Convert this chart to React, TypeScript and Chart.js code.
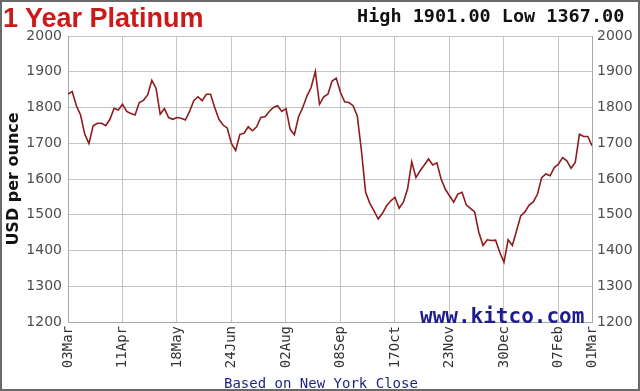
import React, { useEffect, useRef } from "react";
import { Chart, registerables } from "chart.js";

Chart.register(...registerables);

// x-axis tick labels and their positions (index in the price series, 2 trading days per point)
const tickLabels = ["03Mar", "11Apr", "18May", "24Jun", "02Aug", "08Sep", "17Oct", "23Nov", "30Dec", "07Feb", "01Mar"];
const tickIndex = [0, 13, 26, 39, 52, 65, 78, 91, 104, 117, 125];

// y-axis range
const yMin = 1200;
const yMax = 2000;
const yStep = 100;

// platinum closing prices (USD per ounce)
const prices = [
  1837, 1845, 1805, 1779, 1725, 1699, 1749, 1756, 1756, 1749,
  1767, 1798, 1793, 1809, 1789, 1783, 1779, 1814, 1820, 1835,
  1876, 1854, 1781, 1797, 1772, 1767, 1772, 1770, 1765, 1789,
  1819, 1830, 1819, 1837, 1837, 1800, 1767, 1751, 1742, 1699,
  1680, 1725, 1728, 1746, 1735, 1746, 1772, 1774, 1789, 1800,
  1805, 1789, 1797, 1739, 1724, 1774, 1800, 1832, 1856, 1901,
  1809, 1830, 1837, 1874, 1882, 1842, 1816, 1814, 1805, 1777,
  1679, 1563, 1532, 1511, 1488, 1504, 1525, 1539, 1549, 1518,
  1535, 1572, 1648, 1604, 1623, 1639, 1656, 1639, 1645, 1600,
  1572, 1553, 1535, 1558, 1563, 1528, 1518, 1508, 1451, 1414,
  1430, 1428, 1429, 1395, 1367, 1430, 1414, 1455, 1497, 1508,
  1527, 1536, 1558, 1604, 1614, 1609, 1632, 1642, 1660, 1651,
  1630, 1646, 1725, 1719, 1719, 1693,
];

const titleText = "1 Year Platinum";
const highLowText = "High 1901.00 Low 1367.00";
const yTitle = "USD per ounce";
const footText = "Based on New York Close";
const brandText = "www.kitco.com";

export default function App() {
  const canvasRef = useRef<HTMLCanvasElement | null>(null);

  useEffect(() => {
    const canvas = canvasRef.current;
    if (!canvas) return;
    const gridColor = "#c3c3c3";
    const borderColor = "#a8a8a8";
    const yTickFont = { family: "'DejaVu Sans', Verdana, sans-serif", size: 14 };
    const plain = (v: any) => String(v);
    const chart = new Chart(canvas, {
      type: "line",
      data: {
        datasets: [
          {
            data: prices.map((v, i) => ({ x: i, y: v })),
            borderColor: "#8e1c1c",
            borderWidth: 1.6,
            pointRadius: 0,
            tension: 0,
            fill: false,
          },
        ],
      },
      options: {
        animation: false,
        responsive: false,
        maintainAspectRatio: false,
        layout: { padding: { top: 36, left: 0, right: 0, bottom: 0 } },
        plugins: {
          legend: { display: false },
          tooltip: { enabled: false },
          title: { display: false },
        },
        scales: {
          x: {
            type: "linear",
            position: "bottom",
            min: tickIndex[0],
            max: tickIndex[tickIndex.length - 1],
            afterBuildTicks: (axis: any) => {
              axis.ticks = tickIndex.map((v) => ({ value: v }));
            },
            afterFit: (s: any) => {
              s.height = 69;
            },
            ticks: {
              autoSkip: false,
              minRotation: 90,
              maxRotation: 90,
              padding: 4,
              color: "#333333",
              font: { family: "'DejaVu Sans Mono', monospace", size: 14 },
              callback: (_v: any, idx: number) => tickLabels[idx],
            },
            grid: { color: gridColor, lineWidth: 1, drawTicks: false },
            border: { color: borderColor, width: 1 },
          },
          y: {
            type: "linear",
            position: "left",
            min: yMin,
            max: yMax,
            afterFit: (s: any) => {
              s.width = 68;
            },
            ticks: { stepSize: yStep, padding: 6, color: "#4f4f4f", font: yTickFont, callback: plain },
            grid: { color: gridColor, lineWidth: 1, drawTicks: false },
            border: { color: borderColor, width: 1 },
            title: {
              display: true,
              text: yTitle,
              color: "#111111",
              padding: 4,
              font: { family: "'DejaVu Sans', Verdana, sans-serif", size: 16, weight: "bold" },
            },
          },
          y2: {
            type: "linear",
            position: "right",
            min: yMin,
            max: yMax,
            afterFit: (s: any) => {
              s.width = 48;
            },
            ticks: { stepSize: yStep, padding: 5, color: "#4f4f4f", font: yTickFont, callback: plain },
            grid: { drawOnChartArea: false, drawTicks: false },
            border: { color: borderColor, width: 1 },
          },
        },
      },
    } as any);
    return () => chart.destroy();
  }, []);

  const abs: React.CSSProperties = { position: "absolute", whiteSpace: "nowrap", margin: 0 };

  return (
    <div
      style={{
        position: "fixed",
        left: 0,
        top: 0,
        width: 640,
        height: 391,
        background: "#ffffff",
        overflow: "hidden",
      }}
    >
      <canvas ref={canvasRef} width={640} height={391} style={{ position: "absolute", left: 0, top: 0 }} />
      <div
        style={{
          ...abs,
          left: 3,
          top: 3,
          font: "bold 27px 'Liberation Sans', Arial, sans-serif",
          lineHeight: "30px",
          color: "#cc1a1a",
        }}
      >
        {titleText}
      </div>
      <div
        style={{
          ...abs,
          left: 357,
          top: 5,
          font: "bold 18.5px 'DejaVu Sans Mono', monospace",
          lineHeight: "22px",
          color: "#111111",
        }}
      >
        {highLowText}
      </div>
      <div
        style={{
          ...abs,
          left: 420,
          top: 304,
          font: "bold 21px 'DejaVu Sans Mono', monospace",
          lineHeight: "24px",
          color: "#1c1c8c",
        }}
      >
        {brandText}
      </div>
      <div
        style={{
          ...abs,
          left: 224,
          top: 375,
          font: "14px 'DejaVu Sans Mono', monospace",
          lineHeight: "16px",
          color: "#1e1e86",
        }}
      >
        {footText}
      </div>
      <div
        style={{
          position: "absolute",
          left: 0,
          top: 0,
          width: 640,
          height: 391,
          boxSizing: "border-box",
          border: "2px solid #6a6a6a",
          pointerEvents: "none",
        }}
      />
    </div>
  );
}
